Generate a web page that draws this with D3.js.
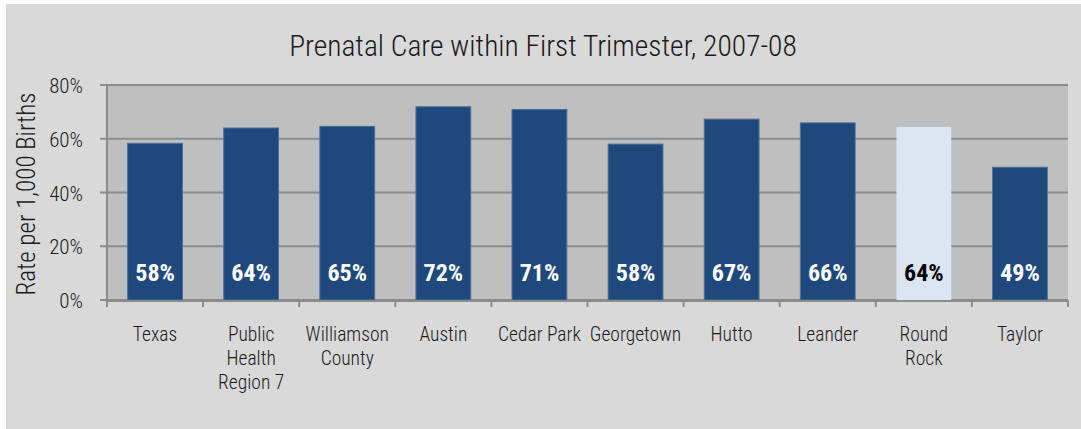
<!DOCTYPE html>
<html>
<head>
<meta charset="utf-8">
<script src="https://cdn.jsdelivr.net/npm/d3@7"></script>
<style>
  body { margin: 0; background: #fff; }
  svg { display: block; }
  text { font-family: "Liberation Sans Narrow", "Arial Narrow", "Roboto Condensed", sans-serif; }
</style>
</head>
<body>
<svg id="chart" width="1081" height="429"></svg>
<script>
// chart data
var places = ['Texas', 'Public Health Region 7', 'Williamson County', 'Austin', 'Cedar Park',
  'Georgetown', 'Hutto', 'Leander', 'Round Rock', 'Taylor'];
var placeLines = [['Texas'], ['Public', 'Health', 'Region 7'], ['Williamson', 'County'], ['Austin'],
  ['Cedar Park'], ['Georgetown'], ['Hutto'], ['Leander'], ['Round', 'Rock'], ['Taylor']];
var rates = [58.3, 64.0, 64.6, 71.9, 70.9, 58.0, 67.3, 65.9, 64.4, 49.4];
var rateLabels = ['58%', '64%', '65%', '72%', '71%', '58%', '67%', '66%', '64%', '49%'];
var highlight = 'Round Rock';
var yTicks = [0, 20, 40, 60, 80];

var svg = d3.select('#chart');
var m = { left: 107, right: 1068, top: 85, bottom: 300 };

svg.append('rect')
  .attr('x', 6).attr('y', 4)
  .attr('width', 1081 - 6).attr('height', 429 - 4)
  .attr('fill', '#d9d9d9');

var x = d3.scaleBand().domain(places).range([m.left, m.right]).paddingInner(0.43).paddingOuter(0.215);
var xCat = d3.scaleBand().domain(places).range([m.left, m.right]);
var y = d3.scaleLinear().domain([0, 80]).range([m.bottom, m.top]);

// plot area
svg.append('rect')
  .attr('x', m.left).attr('y', m.top)
  .attr('width', m.right - m.left).attr('height', m.bottom - m.top)
  .attr('fill', '#bfbfbf');

// gridlines + y ticks
svg.append('g').selectAll('line')
  .data(yTicks)
  .join('line')
  .attr('x1', m.left - 7).attr('x2', m.right)
  .attr('y1', function(d) { return y(d); })
  .attr('y2', function(d) { return y(d); })
  .attr('stroke', '#8c8c8c')
  .attr('stroke-width', 2);

svg.append('line')
  .attr('x1', m.left).attr('x2', m.left)
  .attr('y1', m.top).attr('y2', m.bottom)
  .attr('stroke', '#8c8c8c').attr('stroke-width', 2);

svg.append('g').selectAll('text')
  .data(yTicks)
  .join('text')
  .attr('x', 83)
  .attr('y', function(d) { return y(d) + 8; })
  .attr('text-anchor', 'end')
  .attr('font-size', 21)
  .attr('font-weight', 300)
  .attr('fill', '#1a1a1a')
  .text(function(d) { return d + '%'; });

// bars
svg.append('g').selectAll('rect')
  .data(places)
  .join('rect')
  .attr('x', function(d) { return x(d); })
  .attr('y', function(d, i) { return y(rates[i]); })
  .attr('width', x.bandwidth())
  .attr('height', function(d, i) { return y(0) - y(rates[i]); })
  .attr('fill', function(d) { return d === highlight ? '#dce6f2' : '#1f497d'; })
  .attr('stroke', function(d) { return d === highlight ? 'none' : '#4a6e99'; })
  .attr('stroke-width', 1);

// value labels
svg.append('g').selectAll('text')
  .data(places)
  .join('text')
  .attr('x', function(d) { return x(d) + x.bandwidth() / 2; })
  .attr('y', 281)
  .attr('text-anchor', 'middle')
  .attr('font-family', 'Lato, "Open Sans", sans-serif')
  .attr('font-size', 24)
  .attr('font-weight', 'bold')
  .attr('fill', function(d) { return d === highlight ? '#000' : '#fff'; })
  .text(function(d, i) { return rateLabels[i]; });

// x axis line and ticks
svg.append('line')
  .attr('x1', m.left).attr('x2', m.right)
  .attr('y1', m.bottom + 1).attr('y2', m.bottom + 1)
  .attr('stroke', '#8c8c8c').attr('stroke-width', 2);

svg.append('g').selectAll('line')
  .data(places.concat(['_end']))
  .join('line')
  .attr('x1', function(d, i) { return m.left + i * xCat.bandwidth(); })
  .attr('x2', function(d, i) { return m.left + i * xCat.bandwidth(); })
  .attr('y1', m.bottom).attr('y2', m.bottom + 7)
  .attr('stroke', '#8c8c8c').attr('stroke-width', 2);

// category labels
var cat = svg.append('g').selectAll('text')
  .data(places)
  .join('text')
  .attr('x', function(d) { return xCat(d) + xCat.bandwidth() / 2; })
  .attr('y', 341)
  .attr('text-anchor', 'middle')
  .attr('font-size', 19.5)
  .attr('font-weight', 300)
  .attr('fill', '#1a1a1a');

cat.selectAll('tspan')
  .data(function(d, i) { return placeLines[i]; })
  .join('tspan')
  .attr('x', function() { return d3.select(this.parentNode).attr('x'); })
  .attr('dy', function(d, j) { return j === 0 ? 0 : 24; })
  .text(function(d) { return d; });

// y title
svg.append('text')
  .attr('transform', 'translate(35,194) rotate(-90)')
  .attr('text-anchor', 'middle')
  .attr('font-size', 25)
  .attr('font-weight', 300)
  .attr('fill', '#1a1a1a')
  .text('Rate per 1,000 Births');

// title
svg.append('text')
  .attr('x', 543).attr('y', 56)
  .attr('text-anchor', 'middle')
  .attr('font-size', 29.5)
  .attr('font-weight', 300)
  .attr('fill', '#1a1a1a')
  .text('Prenatal Care within First Trimester, 2007-08');
</script>
</body>
</html>
